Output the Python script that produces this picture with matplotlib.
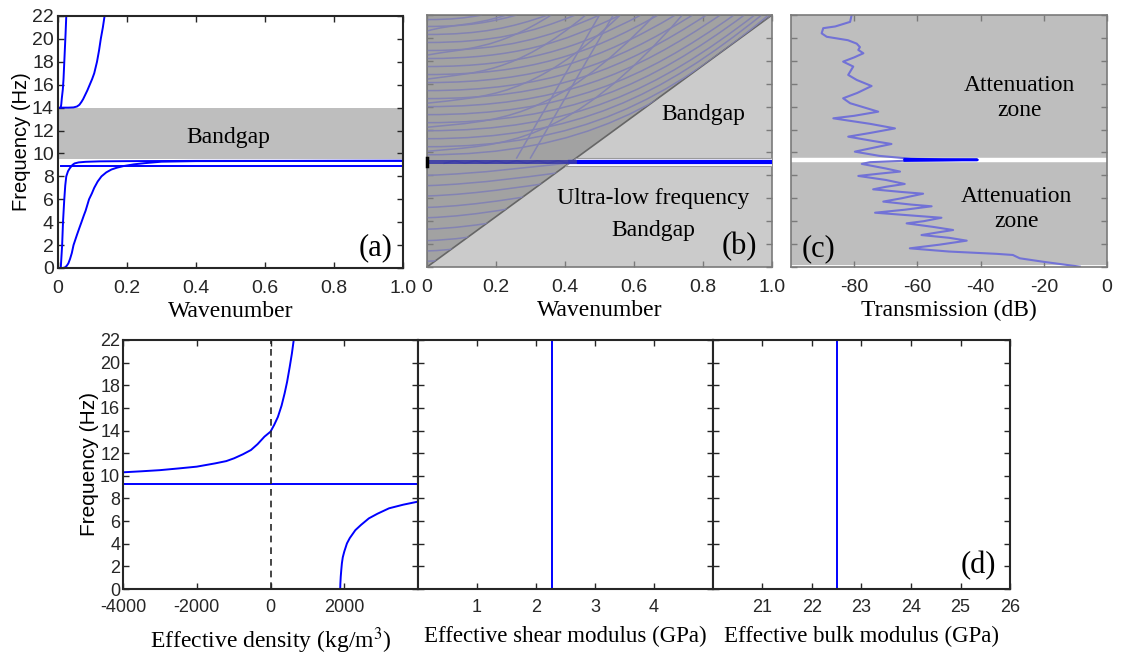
import numpy as np
import matplotlib
matplotlib.use('Agg')
import matplotlib.pyplot as plt
from matplotlib.path import Path
from matplotlib.patches import PathPatch, Polygon

plt.rcParams['font.family'] = ['Liberation Sans', 'DejaVu Sans']
plt.rcParams['mathtext.fontset'] = 'stix'
plt.rcParams['axes.unicode_minus'] = False
SERIF = ['Liberation Serif', 'DejaVu Serif']

# ---------------- data: panel (a) dispersion curves ----------------
a_bandgap = [9.5, 13.95]
a_c1_x = [0.008, 0.010, 0.012, 0.0145, 0.018, 0.021, 0.024, 0.029, 0.034, 0.042, 0.048, 0.06, 0.08, 0.12, 0.2, 0.4, 1.0]
a_c1_y = [0.0, 1.0, 2.0, 4.0, 5.9, 7.2, 8.0, 8.45, 8.7, 9.0, 9.13, 9.22, 9.27, 9.31, 9.33, 9.35, 9.36]
a_c2_x = [0.014, 0.02, 0.025, 0.03, 0.035, 0.04, 0.045, 0.05, 0.055, 0.062, 0.068, 0.075, 0.08, 0.09, 0.098, 0.105,
          0.115, 0.126, 0.14, 0.155, 0.17, 0.19, 0.22, 0.25, 0.3, 0.4, 1.0]
a_c2_y = [0.0, 0.05, 0.18, 0.4, 0.8, 1.3, 2.0, 2.45, 2.9, 3.5, 4.0, 4.6, 5.0, 6.0, 6.5, 7.0,
          7.55, 8.0, 8.35, 8.6, 8.75, 8.9, 9.05, 9.15, 9.28, 9.33, 9.36]
a_flat_x = [0.008, 1.0]
a_flat_y = [8.93, 8.93]
a_c3_x = [0.0, 0.03, 0.045, 0.055, 0.062, 0.068, 0.073, 0.077, 0.085, 0.092, 0.099, 0.105, 0.109, 0.113, 0.119, 0.124,
          0.13, 0.135]
a_c3_y = [14.0, 14.0, 14.02, 14.1, 14.25, 14.5, 14.75, 15.0, 15.5, 16.0, 16.5, 17.0, 17.5, 18.0, 19.0, 20.0,
          21.0, 22.0]
a_c4_x = [0.008, 0.0095, 0.011, 0.0125, 0.014, 0.016, 0.0175, 0.019, 0.0205, 0.022, 0.024]
a_c4_y = [14.0, 14.3, 14.8, 15.2, 15.6, 16.5, 17.5, 18.5, 19.5, 20.5, 22.0]

# ---------------- data: panel (b) supercell bands ----------------
b_band_edges = [8.82, 9.52]
b_band_lines = [9.05, 9.28]
b_upper_start = [9.8, 10.5, 11.2, 11.9, 12.6, 13.3, 14.0, 14.7, 15.4, 16.1, 16.8, 17.5, 18.2, 18.9, 19.6, 20.3, 21.0, 21.6]
b_upper_end_x = [1.0, 0.99, 0.97, 0.95, 0.92, 0.89, 0.85, 0.81, 0.77, 0.72, 0.67, 0.62, 0.56, 0.5, 0.43, 0.35, 0.26, 0.16]
b_wavy_start = [10.1, 12.2, 14.3, 16.4, 18.5, 20.6]
b_wavy_end_x = [0.74, 0.66, 0.56, 0.46, 0.36, 0.23]
b_lower_start = [0.5, 1.4, 2.3, 3.3, 4.3, 5.2, 6.2, 7.1, 8.0]
b_lower_rise = [2.6, 2.5, 2.4, 2.3, 2.2, 2.0, 1.8, 1.6, 1.4]
b_steep_x0 = [0.26, 0.30]
b_steep_x1 = [0.50, 0.54]
b_zig_x = [0.05, 0.08, 0.11, 0.14, 0.17, 0.2, 0.23, 0.26, 0.29, 0.32, 0.35, 0.38, 0.41]

# ---------------- data: panel (c) transmission ----------------
c_db = [-80.8, -81.3, -86, -89.8, -90.3, -88.7, -82, -79.2, -78.2, -78.7, -77.1, -80, -83.5, -80.3,
        -81.9, -79.2, -74.5, -79, -83.5, -81.3, -72.4, -80, -86.6, -75, -67.1, -75, -81.9, -74,
        -68.2, -75, -79.8, -72, -62, -41, -62, -75, -77.6, -70, -65.5, -72, -78.7, -70, -64, -70,
        -74, -65, -58.2, -65, -70.8, -62, -55.5, -64, -73.4, -62, -52.4, -58, -63.4, -55, -48.7,
        -54, -58.7, -50, -44.4, -53, -62.4, -50, -35, -29.8, -27.6, -20, -8.6]
c_hz = [22.0, 21.4, 21.0, 20.85, 20.4, 20.1, 19.8, 19.5, 19.2, 18.95, 18.66, 18.3, 17.93, 17.5,
        16.77, 16.33, 15.8, 15.2, 14.73, 14.3, 13.56, 13.2, 12.98, 12.5, 12.1, 11.7, 11.38, 11.0,
        10.74, 10.35, 10.07, 9.7, 9.45, 9.36, 9.3, 9.15, 9.0, 8.6, 8.33, 8.15, 7.95, 7.6, 7.25, 7.0,
        6.78, 6.55, 6.4, 6.0, 5.71, 5.45, 5.3, 5.0, 4.74, 4.5, 4.3, 4.0, 3.81, 3.5, 3.23,
        3.0, 2.79, 2.55, 2.3, 1.95, 1.63, 1.35, 1.15, 1.05, 0.76, 0.45, 0.03]
c_peak_db = [-64, -52, -41, -52, -64]
c_peak_hz = [9.42, 9.38, 9.35, 9.32, 9.29]
c_white_line = 9.34

# ---------------- data: panel (d) effective parameters ----------------
d_rho_up_x = [-4000, -3500, -3000, -2500, -2000, -1500, -1200, -986, -750, -530, -350, -164, 0, 100, 200, 300,
              384, 450, 520, 580, 630]
d_rho_up_y = [10.31, 10.4, 10.5, 10.65, 10.81, 11.1, 11.3, 11.55, 11.9, 12.28, 12.8, 13.46, 13.9, 14.5, 15.2, 16.2,
              17.3, 18.3, 19.6, 20.8, 22.0]
d_rho_lo_x = [1890, 1895, 1905, 1920, 1936, 1960, 2000, 2073, 2150, 2301, 2450, 2667, 2900, 3215, 3600, 4000]
d_rho_lo_y = [0.0, 0.5, 1.1, 1.7, 2.27, 2.8, 3.3, 4.03, 4.5, 5.2, 5.65, 6.24, 6.65, 7.13, 7.45, 7.72]
d_res_freq = 9.28
d_shear = 2.27
d_bulk = 22.5

FMAX = 22
yt = np.arange(0, FMAX + 1, 2)

W, H = 1121, 655
fig = plt.figure(figsize=(W / 100, H / 100), dpi=100)


def px(l, t, r, b):
    return [l / W, 1 - b / H, (r - l) / W, (b - t) / H]


def style(ax, col, ls=14, pad=8.5):
    ax.tick_params(direction='in', top=True, right=True, length=4, width=1.0,
                   colors=col, labelcolor='#262626', labelsize=ls, pad=pad)
    for s in ax.spines.values():
        s.set_color(col)
        s.set_linewidth(1.5)


blue = '#0000ff'
LBL = 17
TXT = 17
TAG = 22

# ---------------- (a) ----------------
ax = fig.add_axes(px(58, 16, 403, 268))
ax.axhspan(a_bandgap[0], a_bandgap[1], color='#bebebe', zorder=0, lw=0)
for xs, ys in [(a_c1_x, a_c1_y), (a_c2_x, a_c2_y), (a_flat_x, a_flat_y), (a_c3_x, a_c3_y), (a_c4_x, a_c4_y)]:
    ax.plot(xs, ys, color=blue, lw=1.4)
ax.set_xlim(0, 1)
ax.set_ylim(0, FMAX)
ax.set_xticks(np.linspace(0, 1, 6))
ax.set_xticklabels(['0', '0.2', '0.4', '0.6', '0.8', '1.0'])
ax.set_yticks(yt)
style(ax, '#262626')
ax.tick_params(axis='y', pad=3)
ax.set_xlabel('Wavenumber', fontfamily=SERIF, fontsize=LBL, labelpad=3)
ax.set_ylabel('Frequency (Hz)', fontsize=14.5, labelpad=1)
ax.text(0.493, 11.4, 'Bandgap', fontfamily=SERIF, fontsize=TXT, ha='center', va='center')
ax.text(0.92, 1.75, '(a)', fontfamily=SERIF, fontsize=TAG, ha='center', va='center')

# ---------------- (b) ----------------
ax = fig.add_axes(px(427, 15, 772, 267))
ax.set_xlim(0, 1)
ax.set_ylim(0, FMAX)
slope = FMAX / 1.0
lo_tri = Polygon([(0, 0), (1, 0), (1, FMAX)], closed=True, facecolor='#cbcbcb', edgecolor='none', zorder=0)
up_tri = Polygon([(0, 0), (0, FMAX), (1, FMAX)], closed=True, facecolor='#a2a2a2', edgecolor='#666666', lw=1.2, zorder=1)
ax.add_patch(lo_tri)
ax.add_patch(up_tri)
clip_tri = Polygon([(0, 0), (0, FMAX), (1, FMAX)], closed=True, transform=ax.transData)

lcol = '#8383b3'
codes = [Path.MOVETO, Path.CURVE4, Path.CURVE4, Path.CURVE4]


def bez(p, lw=1.1):
    pp = PathPatch(Path(p, codes), fill=False, edgecolor=lcol, lw=lw, zorder=2)
    ax.add_patch(pp)
    pp.set_clip_path(clip_tri)


for y0, xe in zip(b_upper_start, b_upper_end_x):
    bez([(0, y0), (0.45 * xe, y0), (0.7 * xe, y0 + 0.35 * (FMAX - y0)), (xe, FMAX)])
for y0, xe in zip(b_wavy_start, b_wavy_end_x):
    bez([(0, y0), (0.3 * xe, y0 + 0.6), (0.55 * xe, y0 + 0.4), (xe, FMAX)])
for y0, r in zip(b_lower_start, b_lower_rise):
    bez([(0, y0), (0.15, y0 + 0.15), (0.3, y0 + 0.5 * r), (0.5, y0 + r)])
for x0, x1 in zip(b_steep_x0, b_steep_x1):
    ln, = ax.plot([x0, x1], [b_band_edges[1], FMAX], color=lcol, lw=1.1, zorder=2)
    ln.set_clip_path(clip_tri)

# white band (right of the diagonal) with resonant flat bands
xl = b_band_edges[0] / slope
xh = b_band_edges[1] / slope
ax.add_patch(Polygon([(xl, b_band_edges[0]), (1, b_band_edges[0]), (1, b_band_edges[1]), (xh, b_band_edges[1])],
                     closed=True, facecolor='white', edgecolor='#9a9a9a', lw=0.8, zorder=3))
xd = b_band_lines[0] / slope
for yb in b_band_lines:
    ax.plot([xd, 1], [yb, yb], color=blue, lw=1.6, zorder=4)
    ax.plot([0, xd + 0.02], [yb, yb], color='#3c3ca8', lw=1.3, zorder=4)
zig_y = [b_band_lines[i % 2] for i in range(len(b_zig_x))]
ax.plot(b_zig_x, zig_y, color='#3c3ca8', lw=1.0, zorder=4)
ax.plot([0, 0], b_band_edges, color='black', lw=2.5, zorder=5, clip_on=False)

ax.set_xticks(np.linspace(0, 1, 6))
ax.set_xticklabels(['0', '0.2', '0.4', '0.6', '0.8', '1.0'])
ax.set_yticks(yt)
ax.set_yticklabels([])
style(ax, '#7a7a7a')
for s in ax.spines.values():
    s.set_linewidth(1.2)
ax.set_xlabel('Wavenumber', fontfamily=SERIF, fontsize=LBL, labelpad=3)
ax.text(0.8, 13.3, 'Bandgap', fontfamily=SERIF, fontsize=TXT, ha='center', va='center', zorder=6)
ax.text(0.655, 6.0, 'Ultra-low frequency', fontfamily=SERIF, fontsize=TXT, ha='center', va='center', zorder=6)
ax.text(0.655, 3.2, 'Bandgap', fontfamily=SERIF, fontsize=TXT, ha='center', va='center', zorder=6)
ax.text(0.905, 1.75, '(b)', fontfamily=SERIF, fontsize=TAG, ha='center', va='center', zorder=6)

# ---------------- (c) ----------------
ax = fig.add_axes(px(791, 15, 1107, 267))
ax.set_facecolor('#bebebe')
ax.set_xlim(-100, 0)
ax.set_ylim(0, FMAX)
ax.axhline(c_white_line, color='white', lw=3.2, zorder=1)
ax.axhline(0.08, color='white', lw=2.0, zorder=1)
ax.plot(c_db, c_hz, color='#7272d6', lw=1.5, zorder=2)
ax.plot(c_peak_db, c_peak_hz, color=blue, lw=1.8, zorder=3)
ax.set_xticks([-80, -60, -40, -20, 0])
ax.set_xticklabels(['-80', '-60', '-40', '-20', '0'])
ax.set_yticks(yt)
ax.set_yticklabels([])
style(ax, '#7a7a7a')
for s in ax.spines.values():
    s.set_linewidth(1.2)
ax.set_xlabel('Transmission (dB)', fontfamily=SERIF, fontsize=LBL, labelpad=3)
ax.text(-27.6, 14.76, 'Attenuation\nzone', fontfamily=SERIF, fontsize=TXT, ha='center', va='center', linespacing=1.25)
ax.text(-28.6, 5.1, 'Attenuation\nzone', fontfamily=SERIF, fontsize=TXT, ha='center', va='center', linespacing=1.25)
ax.text(-91.4, 1.63, '(c)', fontfamily=SERIF, fontsize=TAG, ha='center', va='center')

# ---------------- (d) ----------------
ax1 = fig.add_axes(px(123, 340, 418, 589))
ax1.plot(d_rho_up_x, d_rho_up_y, color=blue, lw=1.4)
ax1.plot(d_rho_lo_x, d_rho_lo_y, color=blue, lw=1.4)
ax1.axhline(d_res_freq, color=blue, lw=1.4)
ax1.axvline(0, color='#262626', lw=1.2, ls=(0, (4, 3)))
ax1.set_xlim(-4000, 4000)
ax1.set_ylim(0, FMAX)
ax1.set_xticks([-4000, -2000, 0, 2000])
ax1.set_yticks(yt)
style(ax1, '#262626', ls=13, pad=7)
ax1.tick_params(axis='y', pad=2)
ax1.set_xlabel('Effective density (kg/m$^3$)', fontfamily=SERIF, fontsize=LBL, labelpad=7)
ax1.set_ylabel('Frequency (Hz)', fontsize=15, labelpad=1)

ax2 = fig.add_axes(px(418, 340, 713, 589))
ax2.axvline(d_shear, color=blue, lw=1.4)
ax2.set_xlim(0, 5)
ax2.set_ylim(0, FMAX)
ax2.set_xticks([1, 2, 3, 4])
ax2.set_yticks(yt)
ax2.set_yticklabels([])
style(ax2, '#262626', ls=13, pad=7)
ax2.set_xlabel('Effective shear modulus (GPa)', fontfamily=SERIF, fontsize=16.5, labelpad=7)

ax3 = fig.add_axes(px(713, 340, 1010, 589))
ax3.axvline(d_bulk, color=blue, lw=1.4)
ax3.set_xlim(20, 26)
ax3.set_ylim(0, FMAX)
ax3.set_xticks([21, 22, 23, 24, 25, 26])
ax3.set_yticks(yt)
ax3.set_yticklabels([])
style(ax3, '#262626', ls=13, pad=7)
ax3.set_xlabel('Effective bulk modulus (GPa)', fontfamily=SERIF, fontsize=16.5, labelpad=7)
ax3.text(25.36, 2.1, '(d)', fontfamily=SERIF, fontsize=TAG, ha='center', va='center')

fig.savefig('out.png', dpi=100)
